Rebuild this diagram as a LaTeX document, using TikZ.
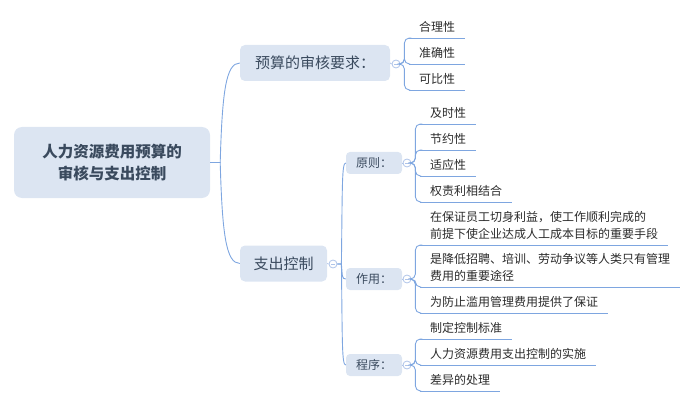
\documentclass[tikz,border=0pt]{standalone}
\usepackage{fontspec}
\setmainfont{Noto Sans CJK SC}
\usetikzlibrary{calc}
\definecolor{boxfill}{HTML}{DCE5F2}
\definecolor{linec}{HTML}{7EA6E0}
\definecolor{circc}{HTML}{AFC4E9}
\definecolor{maintext}{HTML}{3A4A5E}
\definecolor{leaftext}{HTML}{2B2B2B}
\begin{document}
\begin{tikzpicture}[x=1pt,y=-1pt,
  rootbox/.style={fill=boxfill, rounded corners=8pt, minimum width=196pt, minimum height=71pt, align=center, font=\fontsize{15.5}{22}\selectfont\bfseries, text=maintext, inner sep=0pt},
  topbox/.style={fill=boxfill, rounded corners=5pt, minimum height=36pt, font=\fontsize{15}{18}\selectfont, text=maintext, inner sep=0pt},
  subbox/.style={fill=boxfill, rounded corners=4pt, minimum width=56pt, minimum height=22pt, font=\fontsize{12}{14}\selectfont, text=maintext, inner sep=0pt},
  leaf/.style={anchor=south west, inner xsep=10pt, inner ysep=0pt, text depth=6.5pt, align=left, font=\fontsize{12}{17}\selectfont, text=leaftext},
  branch/.style={draw=linec, line width=0.9pt},
  stub/.style={draw=circc, line width=0.8pt},
  fold/.style={circle, draw=circc, fill=white, line width=0.8pt, minimum size=8pt, inner sep=0pt,
    path picture={\draw[circc, line width=0.7pt] ($(path picture bounding box.west)+(2pt,0pt)$) -- ($(path picture bounding box.east)+(-2pt,0pt)$);}},
]
\useasboundingbox (0,0) rectangle (698,406);

% main nodes
\node[rootbox] (root) at (112,162.5) {人力资源费用预算的\\审核与支出控制};
\node[topbox, minimum width=150pt] (ys) at (315,63) {预算的审核要求：};
\node[topbox, minimum width=87pt] (zc) at (283.5,263.5) {支出控制};
\node[subbox] (yz) at (374,163) {原则：};
\node[subbox] (zy) at (374,279) {作用：};
\node[subbox] (cx) at (374,365) {程序：};

% fold markers
\node[fold] (ysf) at (396,64) {};
\node[fold] (zcf) at (333,264) {};
\node[fold] (yzf) at (407,163) {};
\node[fold] (zyf) at (407,279) {};
\node[fold] (cxf) at (407,365) {};

% leaves
\node[leaf] (a1) at (409,38) {合理性};
\node[leaf] (a2) at (409,64) {准确性};
\node[leaf] (a3) at (409,90) {可比性};
\node[leaf] (b1) at (420,124) {及时性};
\node[leaf] (b2) at (420,150) {节约性};
\node[leaf] (b3) at (420,176) {适应性};
\node[leaf] (b4) at (420,202) {权责利相结合};
\node[leaf] (c1) at (420,245) {在保证员工切身利益，使工作顺利完成的\\前提下使企业达成人工成本目标的重要手段};
\node[leaf] (c2) at (420,287) {是降低招聘、培训、劳动争议等人类只有管理\\费用的重要途径};
\node[leaf] (c3) at (420,313) {为防止滥用管理费用提供了保证};
\node[leaf] (d1) at (420,339) {制定控制标准};
\node[leaf] (d2) at (420,365) {人力资源费用支出控制的实施};
\node[leaf] (d3) at (420,391) {差异的处理};

% underlines
\foreach \n in {a1,a2,a3,b1,b2,b3,b4,c1,c2,c3,d1,d2,d3}
  \draw[branch] (\n.south west) -- (\n.south east);

% root connectors
\draw[branch] (root.east) -- ++(10,0) .. controls +(2,-70) and +(-14,0) .. (ys.west);
\draw[branch] (root.east) -- ++(10,0) .. controls +(2,70) and +(-14,0) .. (zc.west);

% stubs box -> fold
\draw[stub] (ys.east) -- (ysf.west);
\draw[stub] (zc.east) -- (zcf.west);
\draw[stub] (yz.east) -- (yzf.west);
\draw[stub] (zy.east) -- (zyf.west);
\draw[stub] (cx.east) -- (cxf.west);

% second level connectors
\draw[branch] (zcf.east) -- ++(4,0) .. controls +(1,-80) and +(-4,0) .. (yz.west);
\draw[branch] (zcf.east) -- ++(4,0) .. controls +(1,12) and +(-4,0) .. (zy.west);
\draw[branch] (zcf.east) -- ++(4,0) .. controls +(1,80) and +(-4,0) .. (cx.west);

% brackets to leaves
\foreach \n in {a1,a2,a3}
  \draw[branch, rounded corners=5pt] (ysf.east) -- ++(4,0) |- (\n.south west);
\foreach \n in {b1,b2,b3,b4}
  \draw[branch, rounded corners=5pt] (yzf.east) -- ++(4,0) |- (\n.south west);
\foreach \n in {c1,c2,c3}
  \draw[branch, rounded corners=5pt] (zyf.east) -- ++(4,0) |- (\n.south west);
\foreach \n in {d1,d2,d3}
  \draw[branch, rounded corners=5pt] (cxf.east) -- ++(4,0) |- (\n.south west);
\end{tikzpicture}
\end{document}
